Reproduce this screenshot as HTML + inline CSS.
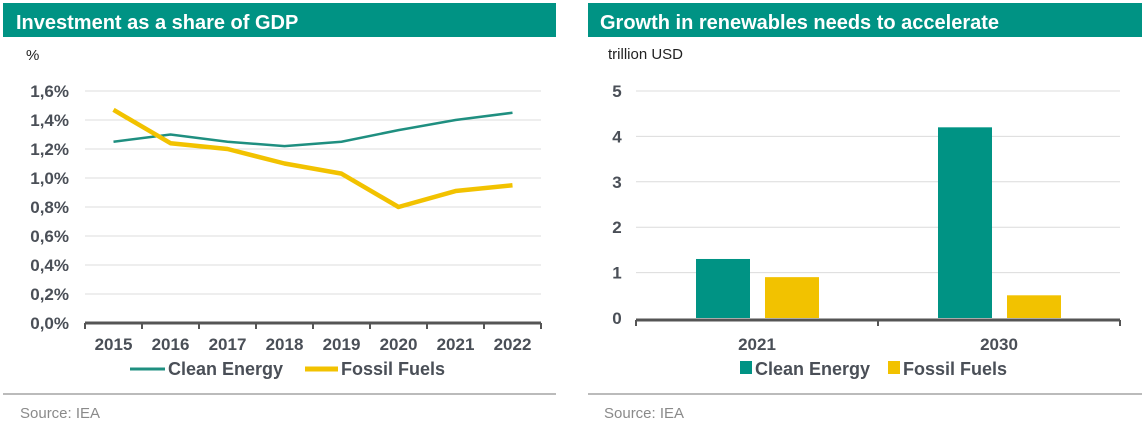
<!DOCTYPE html>
<html><head><meta charset="utf-8"><style>
body{margin:0;width:1146px;height:423px;background:#fff;overflow:hidden;font-family:"Liberation Sans",sans-serif}
svg{position:absolute;left:0;top:0}
</style></head><body>
<svg width="1146" height="423">
<g id="left">
<rect x="3" y="3" width="553" height="34" fill="#009384"/>
<text x="16" y="29" fill="#fff" font-size="20" font-weight="bold">Investment as a share of GDP</text>
<text x="26" y="60" fill="#222" font-size="15">%</text>
<g id="lgrid"></g><g id="llines"></g>
<line x1="130" y1="369" x2="165" y2="369" stroke="#1f8f80" stroke-width="3"/>
<text x="168" y="375" fill="#4a4f57" font-size="18" font-weight="bold">Clean Energy</text>
<line x1="305" y1="369" x2="338" y2="369" stroke="#f2c200" stroke-width="5"/>
<text x="341" y="375" fill="#4a4f57" font-size="18" font-weight="bold">Fossil Fuels</text>
<line x1="3" y1="394" x2="556" y2="394" stroke="#bbb" stroke-width="2"/>
<text x="20" y="418" fill="#8a8a8a" font-size="15">Source: IEA</text>
</g>
<g id="right">
<rect x="588" y="3" width="554" height="34" fill="#009384"/>
<text x="600" y="29" fill="#fff" font-size="20" font-weight="bold">Growth in renewables needs to accelerate</text>
<text x="608" y="59" fill="#222" font-size="15">trillion USD</text>
<g id="rgrid"></g><g id="rbars"></g>
<rect x="740" y="361" width="12" height="13" fill="#009384"/>
<text x="755" y="375" fill="#4a4f57" font-size="18" font-weight="bold">Clean Energy</text>
<rect x="888" y="361" width="12" height="13" fill="#f2c200"/>
<text x="903" y="375" fill="#4a4f57" font-size="18" font-weight="bold">Fossil Fuels</text>
<line x1="588" y1="394" x2="1142" y2="394" stroke="#bbb" stroke-width="2"/>
<text x="604" y="418" fill="#8a8a8a" font-size="15">Source: IEA</text>
</g>
</svg>
<script>
const years=["2015","2016","2017","2018","2019","2020","2021","2022"];
const cleanShare=[1.25,1.30,1.25,1.22,1.25,1.33,1.40,1.45];
const fossilShare=[1.47,1.24,1.20,1.10,1.03,0.80,0.91,0.95];
const shareTicks=[0,0.2,0.4,0.6,0.8,1.0,1.2,1.4,1.6];
const barCats=["2021","2030"];
const cleanBars=[1.3,4.2];
const fossilBars=[0.9,0.5];
const barTicks=[0,1,2,3,4,5];
const NS="http://www.w3.org/2000/svg";
function mk(t,a,p){const e=document.createElementNS(NS,t);for(const k in a)e.setAttribute(k,a[k]);p.appendChild(e);return e;}
const lx0=85,lx1=541,ly0=323,ly1=91;
const lband=(lx1-lx0)/years.length;
const lX=i=>lx0+lband*(i+0.5);
const lY=v=>ly0-(v/1.6)*(ly0-ly1);
const lg=document.getElementById('lgrid');
shareTicks.forEach(t=>{
 if(t>0){const l=mk('line',{x1:lx0,x2:lx1,y1:lY(t),y2:lY(t),stroke:'#dcdcdc','stroke-width':1},lg);
 
 }
 const tx=mk('text',{x:69,y:lY(t)+6,'text-anchor':'end',fill:'#4a4f57','font-size':17,'font-weight':'bold'},lg);
 tx.textContent=t.toFixed(1).replace('.',',')+'%';
 
 
});
const ax=mk('line',{x1:lx0,x2:lx1,y1:ly0,y2:ly0,stroke:'#555','stroke-width':3},lg);


for(let i=0;i<=years.length;i++){const tk=mk('line',{x1:lx0+lband*i,x2:lx0+lband*i,y1:ly0,y2:ly0+6,stroke:'#555','stroke-width':2},lg);
 
 }
years.forEach((y,i)=>{const t=mk('text',{x:lX(i),y:350,'text-anchor':'middle',fill:'#4a4f57','font-size':17,'font-weight':'bold'},lg);t.textContent=y;
 
 });
const ll=document.getElementById('llines');
const pc=mk('polyline',{points:cleanShare.map((v,i)=>lX(i)+','+lY(v)).join(' '),fill:'none',stroke:'#1f8f80','stroke-width':2.5},ll);


const pf=mk('polyline',{points:fossilShare.map((v,i)=>lX(i)+','+lY(v)).join(' '),fill:'none',stroke:'#f2c200','stroke-width':4.5,'stroke-linejoin':'round'},ll);


const rx0=636,rx1=1120,ry0=318,ry1=91;
const rband=(rx1-rx0)/barCats.length;
const rY=v=>ry0-(v/5)*(ry0-ry1);
const rg=document.getElementById('rgrid');
barTicks.forEach(t=>{
 if(t>0){const l=mk('line',{x1:rx0,x2:rx1,y1:rY(t),y2:rY(t),stroke:'#dcdcdc','stroke-width':1},rg);
 
 }
 const tx=mk('text',{x:617,y:rY(t)+6,'text-anchor':'middle',fill:'#4a4f57','font-size':17,'font-weight':'bold'},rg);
 tx.textContent=t;
 
 
});
const rax=mk('line',{x1:rx0,x2:rx1,y1:ry0+2,y2:ry0+2,stroke:'#555','stroke-width':3},rg);


for(let i=0;i<=barCats.length;i++){const tk=mk('line',{x1:rx0+rband*i,x2:rx0+rband*i,y1:ry0+2,y2:ry0+8,stroke:'#555','stroke-width':2},rg);
 
 }
const rb=document.getElementById('rbars');
barCats.forEach((c,i)=>{
 const cx=rx0+rband*(i+0.5);
 const t=mk('text',{x:cx,y:350,'text-anchor':'middle',fill:'#4a4f57','font-size':17,'font-weight':'bold'},rg);t.textContent=c;
 
 
 const b1=mk('rect',{x:cx-61,y:rY(cleanBars[i]),width:54,height:ry0-rY(cleanBars[i]),fill:'#009384'},rb);
 
 
 const b2=mk('rect',{x:cx+8,y:rY(fossilBars[i]),width:54,height:ry0-rY(fossilBars[i]),fill:'#f2c200'},rb);
 
 
});
</script>
</body></html>
